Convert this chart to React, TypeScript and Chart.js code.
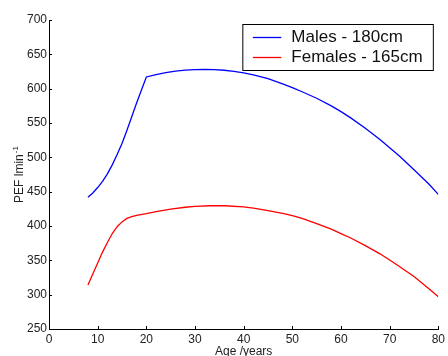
import React, { useEffect, useRef } from "react";
import { Chart, registerables } from "chart.js";

Chart.register(...registerables);

const maleAges = [8, 9, 10, 11, 12, 13, 14, 15, 16, 17, 18, 19, 20, 22, 24, 26, 28, 30, 32, 34, 36, 38, 40, 42, 45, 48, 50, 52, 55, 58, 60, 62, 65, 68, 70, 72, 75, 78, 80];
const maleValues = [442, 448, 456, 465, 476, 489, 504, 520, 539, 559, 579, 598, 617, 620.5, 623.5, 625.5, 627, 627.7, 628, 627.7, 626.8, 625.2, 623, 620, 614.5, 607, 601.5, 595.5, 586, 575, 566.5, 557.5, 542.5, 526, 514, 502, 482, 461.5, 446];

const femaleAges = [8, 9, 10, 11, 12, 13, 14, 15, 16, 17, 18, 20, 22, 25, 28, 30, 33, 36, 40, 42, 45, 48, 50, 52, 55, 58, 60, 62, 65, 68, 70, 72, 75, 78, 80];
const femaleValues = [314, 330, 346, 362, 376, 389, 399, 406, 411, 413.8, 415.5, 418, 421, 424.5, 427.3, 428.5, 429.5, 429.5, 428, 426, 422.5, 418.5, 415, 411, 403.5, 395.5, 389, 382.5, 371.5, 359.5, 350.5, 341, 326.5, 309, 297];

const seriesLabels = ["Males - 180cm", "Females - 165cm"];
const seriesColors = ["#0000ff", "#ff0000"];

const xTitle = "Age /years";
const yTitleMain = "PEF lmin";
const yTitleSup = "-1";

const FONT = "'Liberation Sans', Arial, Helvetica, sans-serif";

const decorPlugin = {
  id: "decor",
  afterDraw(chart: any) {
    const ctx = chart.ctx;
    const area = chart.chartArea;
    const xs = chart.scales.x;
    const ys = chart.scales.y;
    ctx.save();
    // inward ticks
    ctx.strokeStyle = "#000";
    ctx.lineWidth = 1;
    ctx.beginPath();
    xs.ticks.forEach((t: any) => {
      const px = Math.round(xs.getPixelForValue(t.value)) + 0.5;
      ctx.moveTo(px, area.bottom);
      ctx.lineTo(px, area.bottom - 3);
    });
    ys.ticks.forEach((t: any) => {
      const py = Math.round(ys.getPixelForValue(t.value)) + 0.5;
      ctx.moveTo(area.left, py);
      ctx.lineTo(area.left + 3, py);
    });
    ctx.stroke();

    // y title with superscript
    ctx.fillStyle = "#222";
    ctx.font = `12px ${FONT}`;
    const wMain = ctx.measureText(yTitleMain).width;
    ctx.font = `8px ${FONT}`;
    const wSup = ctx.measureText(yTitleSup).width;
    const total = wMain + wSup + 1;
    const cy = (area.top + area.bottom) / 2;
    ctx.translate(22.5, cy);
    ctx.rotate(-Math.PI / 2);
    ctx.textAlign = "left";
    ctx.textBaseline = "alphabetic";
    ctx.font = `12px ${FONT}`;
    ctx.fillText(yTitleMain, -total / 2, 0);
    ctx.font = `8px ${FONT}`;
    ctx.fillText(yTitleSup, -total / 2 + wMain + 1, -5);
    ctx.restore();

    // legend box
    ctx.save();
    const bx = area.right - 195.5;
    const by = area.top + 4.5;
    const bw = 190.5;
    const bh = 46;
    ctx.fillStyle = "#fff";
    ctx.fillRect(bx, by, bw, bh);
    ctx.strokeStyle = "#000";
    ctx.lineWidth = 1;
    ctx.strokeRect(bx, by, bw, bh);
    ctx.font = `17px ${FONT}`;
    ctx.textBaseline = "middle";
    ctx.textAlign = "left";
    seriesLabels.forEach((lab, i) => {
      const ly = by + 13 + i * 20;
      ctx.beginPath();
      ctx.strokeStyle = seriesColors[i];
      ctx.lineWidth = 1.3;
      ctx.moveTo(bx + 10, ly);
      ctx.lineTo(bx + 38.5, ly);
      ctx.stroke();
      ctx.fillStyle = "#111";
      ctx.fillText(lab, bx + 48.5, ly);
    });
    ctx.restore();
  },
};

export default function App() {
  const ref = useRef<HTMLCanvasElement | null>(null);
  useEffect(() => {
    document.body.style.margin = "0";
    const canvas = ref.current;
    if (!canvas) return;
    const chart = new Chart(canvas, {
      type: "line",
      data: {
        datasets: [
          {
            label: seriesLabels[0],
            data: maleAges.map((a, i) => ({ x: a, y: maleValues[i] })),
            borderColor: seriesColors[0],
            borderWidth: 1.3,
            pointRadius: 0,
            tension: 0,
            fill: false,
          },
          {
            label: seriesLabels[1],
            data: femaleAges.map((a, i) => ({ x: a, y: femaleValues[i] })),
            borderColor: seriesColors[1],
            borderWidth: 1.3,
            pointRadius: 0,
            tension: 0,
            fill: false,
          },
        ],
      },
      options: {
        animation: false,
        responsive: false,
        devicePixelRatio: 1,
        layout: { padding: { left: 0, right: 7, top: 20, bottom: 0 } },
        plugins: { legend: { display: false }, tooltip: { enabled: false } },
        scales: {
          x: {
            type: "linear",
            min: 0,
            max: 80,
            grid: { display: false, drawTicks: false },
            border: { display: true, color: "#000", width: 1 },
            ticks: {
              stepSize: 10,
              padding: 3,
              color: "#222",
              font: { family: FONT, size: 12 },
              maxRotation: 0,
            },
            title: {
              display: true,
              text: xTitle,
              color: "#222",
              font: { family: FONT, size: 12 },
              padding: { top: 0, bottom: -3 },
            },
            afterFit: (s: any) => {
              s.height = 27;
            },
          },
          y: {
            type: "linear",
            min: 250,
            max: 700,
            grid: { display: false, drawTicks: false },
            border: { display: true, color: "#000", width: 1 },
            ticks: {
              stepSize: 50,
              padding: 2,
              color: "#222",
              font: { family: FONT, size: 12 },
            },
            afterFit: (s: any) => {
              s.width = 49;
            },
          },
        },
      },
      plugins: [decorPlugin],
    });
    return () => chart.destroy();
  }, []);
  return (
    <div style={{ position: "absolute", left: 0, top: 0, width: 448, height: 356, background: "#fff" }}>
      <canvas ref={ref} width={448} height={356} style={{ display: "block" }} />
    </div>
  );
}
